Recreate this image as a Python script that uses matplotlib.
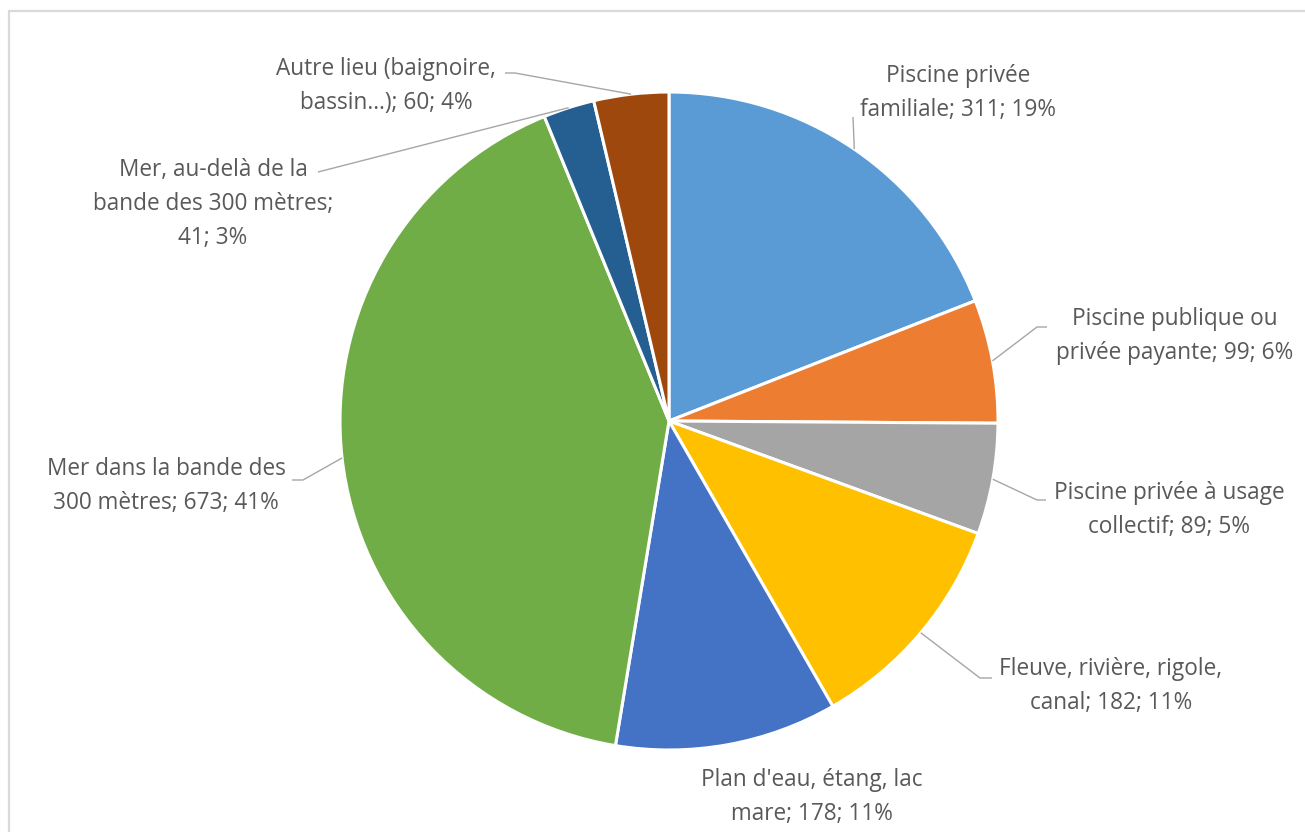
import numpy as np
import matplotlib
matplotlib.use("Agg")
import matplotlib.pyplot as plt

# ---- data ----
categories = [
    "Piscine privée\nfamiliale",
    "Piscine publique ou\nprivée payante",
    "Piscine privée à usage\ncollectif",
    "Fleuve, rivière, rigole,\ncanal",
    "Plan d'eau, étang, lac\nmare",
    "Mer dans la bande des\n300 mètres",
    "Mer, au-delà de la\nbande des 300 mètres;\n",
    "Autre lieu (baignoire,\nbassin…)",
]
values = [311, 99, 89, 182, 178, 673, 41, 60]
percents = [19, 6, 5, 11, 11, 41, 3, 4]
colors = ["#5B9BD5", "#ED7D31", "#A5A5A5", "#FFC000",
          "#4472C4", "#70AD47", "#255E91", "#9E480E"]

# ---- layout (pixel coordinates, y from top) ----
W, H = 1305, 832
cx, cy, R = 669, 421, 329
label_pos = [(958, 93), (1175, 336), (1169, 510), (1111, 686),
             (812, 797), (166, 486), (213, 204), (386, 86)]
leader_pts = [
    [(853, 117)],
    [(1047, 327), (1037, 327)],
    [(1046, 500), (1037, 500)],
    [(992, 678), (980, 678)],
    None,
    [(292, 480), (303, 480)],
    [(318, 172)],
    [(505, 73), (515, 73)],
]

def Y(y):
    return H - y

fig = plt.figure(figsize=(W / 100, H / 100), dpi=100)
ax = fig.add_axes([0, 0, 1, 1])

wedges, _ = ax.pie(values, colors=colors, startangle=90, counterclock=False,
                   center=(cx, Y(cy)), radius=R,
                   wedgeprops=dict(edgecolor="white", linewidth=2.2))
ax.set_xlim(0, W)
ax.set_ylim(0, H)
ax.set_aspect("auto")
ax.axis("off")

txt_color = "#595959"
for i, (cat, v, p) in enumerate(zip(categories, values, percents)):
    if cat.endswith("\n"):
        label = f"{cat}{v}; {p}%"
    else:
        label = f"{cat}; {v}; {p}%"
    lx, ly = label_pos[i]
    ax.text(lx, Y(ly), label, ha="center", va="center", fontsize=16.3,
            color=txt_color, family=["Open Sans", "DejaVu Sans"],
            linespacing=1.55)
    if leader_pts[i] is not None:
        w = wedges[i]
        mid = np.deg2rad((w.theta1 + w.theta2) / 2)
        ax_x = cx + R * np.cos(mid)
        ax_y = Y(cy) + R * np.sin(mid)
        xs = [x for x, _ in leader_pts[i]] + [ax_x]
        ys = [Y(y) for _, y in leader_pts[i]] + [ax_y]
        ax.plot(xs, ys, color="#A6A6A6", lw=1.0, solid_capstyle="butt")

# chart-area border (top and left visible)
ax.plot([9, 9, W + 5], [Y(H + 5), Y(11), Y(11)], color="#D9D9D9", lw=1.6,
        clip_on=False)

fig.savefig("out.png", dpi=100, facecolor="white")
